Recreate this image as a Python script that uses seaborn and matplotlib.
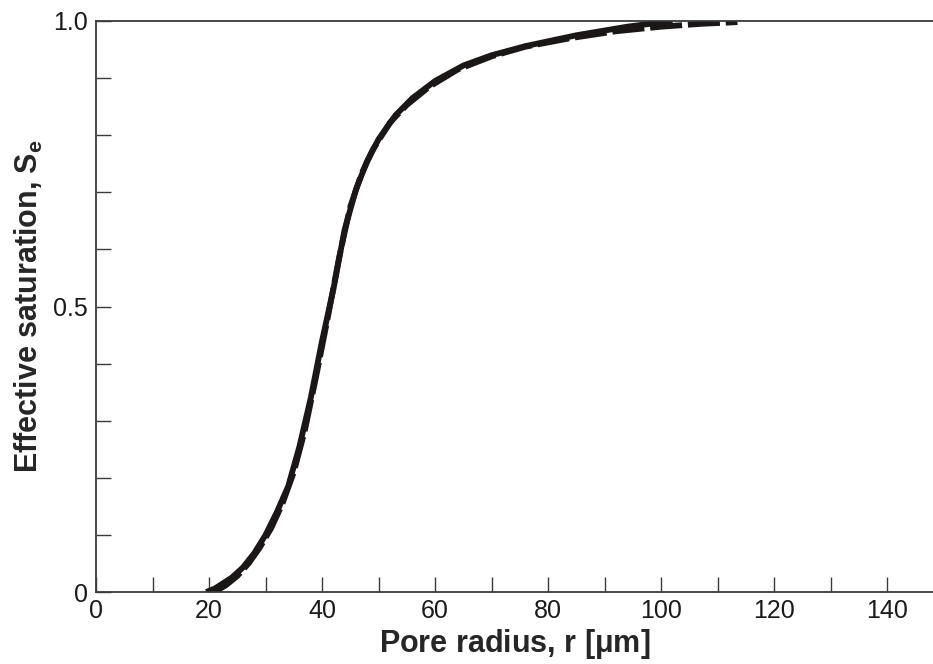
import matplotlib
matplotlib.use("Agg")
import matplotlib.pyplot as plt
from matplotlib.ticker import MultipleLocator, FixedLocator, FixedFormatter
import seaborn as sns
import pandas as pd

# Pore radius [um] and effective saturation for the fitted model (solid)
r_model = [19.5, 21, 24, 26, 28, 30, 32, 34, 36, 38, 40, 42, 44, 46, 48, 50,
           53, 56, 60, 65, 70, 76, 85, 94, 102]
se_model = [0.0, 0.006, 0.025, 0.043, 0.068, 0.100, 0.140, 0.185, 0.255, 0.340,
            0.440, 0.530, 0.635, 0.705, 0.755, 0.793, 0.835, 0.865, 0.895, 0.922,
            0.940, 0.956, 0.975, 0.990, 1.0]

# Pore radius [um] and effective saturation from the measured distribution (dashed)
r_data = [21, 23, 25, 27, 29, 31, 33, 35, 37, 39, 41, 43, 45, 47, 49, 52, 55,
          59, 64, 70, 76, 84, 92, 100, 107, 113.5]
se_data = [0.0, 0.012, 0.028, 0.050, 0.078, 0.112, 0.155, 0.210, 0.285, 0.380,
           0.480, 0.585, 0.675, 0.733, 0.775, 0.822, 0.853, 0.885, 0.915, 0.938,
           0.955, 0.970, 0.982, 0.990, 0.995, 0.998]

x_major = [0, 20, 40, 60, 80, 100, 120, 140]
y_major = [0, 0.5, 1.0]
y_major_labels = ["0", "0.5", "1.0"]

sns.set_style("ticks")
plt.rcParams["font.family"] = ["Liberation Sans", "DejaVu Sans"]

line_color = "#1c1717"
spine_color = "#3a3a3a"

fig = plt.figure(figsize=(9.33, 6.64), dpi=100)
ax = fig.add_axes([0.1029, 0.1084, 0.8971, 0.86])

df_model = pd.DataFrame({"r": r_model, "Se": se_model})
df_data = pd.DataFrame({"r": r_data, "Se": se_data})

sns.lineplot(data=df_model, x="r", y="Se", ax=ax, color=line_color,
             linewidth=4.2, sort=False, solid_capstyle="butt")
sns.lineplot(data=df_data, x="r", y="Se", ax=ax, color=line_color,
             linewidth=4.2, sort=False, dashes=False)
ax.lines[-1].set_dashes([5.5, 1.0])
ax.lines[-1].set_dash_capstyle("butt")

ax.set_xlim(0, 148.1)
ax.set_ylim(0, 1.0)

ax.xaxis.set_major_locator(FixedLocator(x_major))
ax.xaxis.set_minor_locator(MultipleLocator(10))
ax.yaxis.set_major_locator(FixedLocator(y_major))
ax.yaxis.set_major_formatter(FixedFormatter(y_major_labels))
ax.yaxis.set_minor_locator(MultipleLocator(0.1))

ax.tick_params(axis="both", which="both", direction="in", length=10.5,
               width=1.0, color=spine_color, labelsize=18, labelcolor="#1a1a1a")
ax.tick_params(axis="x", which="major", pad=5)
ax.tick_params(axis="y", which="major", pad=6)

for side in ("left", "bottom", "top"):
    ax.spines[side].set_color(spine_color)
    ax.spines[side].set_linewidth(1.3)
ax.spines["right"].set_visible(False)

ax.set_xlabel(r"Pore radius, r [$\mathregular{\mu}$m]", fontsize=22,
              fontweight="bold", labelpad=3)
ax.set_ylabel(r"Effective saturation, S$_\mathregular{e}$", fontsize=22,
              fontweight="bold", labelpad=6)

fig.savefig("out.png", dpi=100)
